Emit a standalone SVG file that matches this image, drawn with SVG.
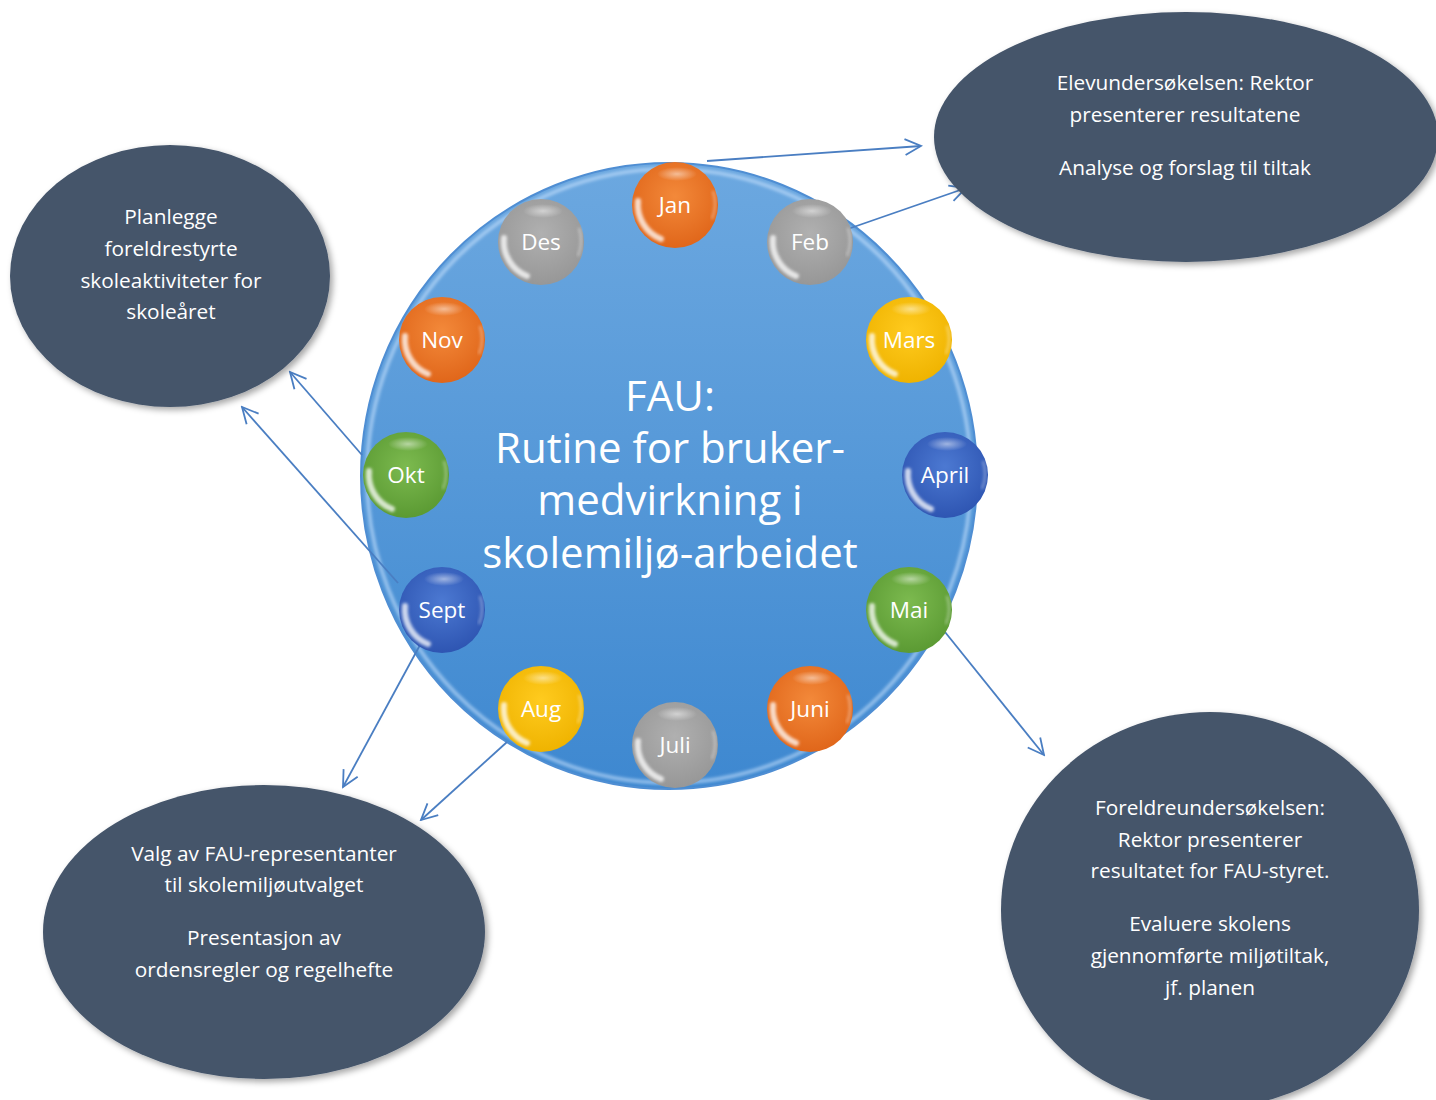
<svg xmlns="http://www.w3.org/2000/svg" width="1436" height="1100" viewBox="0 0 1436 1100">
<defs>
<style>
.note{fill:#44546A;filter:url(#sh);}
.nt{font-family:"Open Sans","Noto Sans",sans-serif;font-size:20.8px;fill:#fff;text-anchor:middle;}
.mt{font-family:"Open Sans","Noto Sans",sans-serif;font-size:22.5px;fill:#fff;text-anchor:middle;}
.title{font-family:"Open Sans","Noto Sans",sans-serif;font-size:42px;fill:#fff;text-anchor:middle;}
.con{stroke:#4A7EC2;stroke-width:1.8;fill:none;marker-end:url(#ah);}
</style>
<filter id="sh" x="-10%" y="-10%" width="125%" height="125%">
<feDropShadow dx="3" dy="3" stdDeviation="3" flood-color="#000" flood-opacity="0.35"/>
</filter>
<filter id="bl" x="-50%" y="-50%" width="200%" height="200%"><feGaussianBlur stdDeviation="1.6"/></filter>
<marker id="ah" viewBox="0 0 20 20" refX="18" refY="10" markerWidth="20" markerHeight="20" markerUnits="userSpaceOnUse" orient="auto">
<path d="M2,2 L18,10 L2,18" fill="none" stroke="#4A7EC2" stroke-width="1.8"/>
</marker>
<linearGradient id="big" x1="0" y1="0" x2="0" y2="1">
<stop offset="0" stop-color="#6CA8E0"/>
<stop offset="1" stop-color="#3E88D0"/>
</linearGradient>
<radialGradient id="gO" cx="0.5" cy="0.4" r="0.6"><stop offset="0" stop-color="#F3893A"/><stop offset="1" stop-color="#E0661A"/></radialGradient>
<radialGradient id="gG" cx="0.5" cy="0.4" r="0.6"><stop offset="0" stop-color="#B0B0B0"/><stop offset="1" stop-color="#979797"/></radialGradient>
<radialGradient id="gY" cx="0.5" cy="0.4" r="0.6"><stop offset="0" stop-color="#FFCB1F"/><stop offset="1" stop-color="#EFB300"/></radialGradient>
<radialGradient id="gB" cx="0.5" cy="0.4" r="0.6"><stop offset="0" stop-color="#4C79D2"/><stop offset="1" stop-color="#2E55B2"/></radialGradient>
<radialGradient id="gN" cx="0.5" cy="0.4" r="0.6"><stop offset="0" stop-color="#7CBA4F"/><stop offset="1" stop-color="#5B9A33"/></radialGradient>
<radialGradient id="hl" cx="0.5" cy="0.5" r="0.5"><stop offset="0" stop-color="#fff" stop-opacity="0.5"/><stop offset="1" stop-color="#fff" stop-opacity="0"/></radialGradient>
<g id="gloss">
<ellipse cx="2" cy="-31" rx="20" ry="7" fill="url(#hl)"/>
<path d="M-37,-4 A37,37 0 0 0 -14,34" fill="none" stroke="#fff" stroke-opacity="0.75" stroke-width="6" stroke-linecap="round" filter="url(#bl)"/>
<path d="M38,-14 A40,40 0 0 1 37,14" fill="none" stroke="#fff" stroke-opacity="0.35" stroke-width="2.5" filter="url(#bl)"/>
</g>
</defs>
<rect width="1436" height="1100" fill="#fff"/>

<g id="wheel">
<ellipse cx="669" cy="476" rx="308" ry="313" fill="url(#big)" stroke="#4F8ED3" stroke-width="2"/>
<ellipse cx="669" cy="476" rx="302" ry="307" fill="none" stroke="#CDE6FF" stroke-opacity="0.55" stroke-width="4" filter="url(#bl)"/>
<text class="title" x="670" y="411">FAU:</text>
<text class="title" x="670" y="463">Rutine for bruker-</text>
<text class="title" x="670" y="515">medvirkning i</text>
<text class="title" x="670" y="568">skolemiljø-arbeidet</text>
</g>

<g id="connectors">
<line class="con" x1="707" y1="161" x2="921" y2="146"/>
<line class="con" x1="845" y1="230" x2="966" y2="188"/>
<line class="con" x1="362" y1="455" x2="290" y2="372"/>
<line class="con" x1="398" y1="583" x2="242" y2="407"/>
<line class="con" x1="420" y1="645" x2="343" y2="787"/>
<line class="con" x1="507" y1="742" x2="421" y2="820"/>
<line class="con" x1="945" y1="632" x2="1044" y2="755"/>
</g>

<g id="m-jan"><circle cx="675" cy="205" r="43" fill="url(#gO)"/><use href="#gloss" x="675" y="205"/><text class="mt" x="675" y="213">Jan</text></g>
<g id="m-feb"><circle cx="810" cy="242" r="43" fill="url(#gG)"/><use href="#gloss" x="810" y="242"/><text class="mt" x="810" y="250">Feb</text></g>
<g id="m-mars"><circle cx="909" cy="340" r="43" fill="url(#gY)"/><use href="#gloss" x="909" y="340"/><text class="mt" x="909" y="348">Mars</text></g>
<g id="m-april"><circle cx="945" cy="475" r="43" fill="url(#gB)"/><use href="#gloss" x="945" y="475"/><text class="mt" x="945" y="483">April</text></g>
<g id="m-mai"><circle cx="909" cy="610" r="43" fill="url(#gN)"/><use href="#gloss" x="909" y="610"/><text class="mt" x="909" y="618">Mai</text></g>
<g id="m-juni"><circle cx="810" cy="709" r="43" fill="url(#gO)"/><use href="#gloss" x="810" y="709"/><text class="mt" x="810" y="717">Juni</text></g>
<g id="m-juli"><circle cx="675" cy="745" r="43" fill="url(#gG)"/><use href="#gloss" x="675" y="745"/><text class="mt" x="675" y="753">Juli</text></g>
<g id="m-aug"><circle cx="541" cy="709" r="43" fill="url(#gY)"/><use href="#gloss" x="541" y="709"/><text class="mt" x="541" y="717">Aug</text></g>
<g id="m-sept"><circle cx="442" cy="610" r="43" fill="url(#gB)"/><use href="#gloss" x="442" y="610"/><text class="mt" x="442" y="618">Sept</text></g>
<g id="m-okt"><circle cx="406" cy="475" r="43" fill="url(#gN)"/><use href="#gloss" x="406" y="475"/><text class="mt" x="406" y="483">Okt</text></g>
<g id="m-nov"><circle cx="442" cy="340" r="43" fill="url(#gO)"/><use href="#gloss" x="442" y="340"/><text class="mt" x="442" y="348">Nov</text></g>
<g id="m-des"><circle cx="541" cy="242" r="43" fill="url(#gG)"/><use href="#gloss" x="541" y="242"/><text class="mt" x="541" y="250">Des</text></g>

<g id="n-topright">
<ellipse class="note" cx="1186" cy="137" rx="252" ry="125"/>
<text class="nt" x="1185" y="90">Elevundersøkelsen: Rektor</text>
<text class="nt" x="1185" y="122">presenterer resultatene</text>
<text class="nt" x="1185" y="175">Analyse og forslag til tiltak</text>
</g>
<g id="n-left">
<ellipse class="note" cx="170" cy="276" rx="160" ry="131"/>
<text class="nt" x="171" y="224">Planlegge</text>
<text class="nt" x="171" y="256">foreldrestyrte</text>
<text class="nt" x="171" y="288">skoleaktiviteter for</text>
<text class="nt" x="171" y="319">skoleåret</text>
</g>
<g id="n-bottomleft">
<ellipse class="note" cx="264" cy="932" rx="221" ry="147"/>
<text class="nt" x="264" y="861">Valg av FAU-representanter</text>
<text class="nt" x="264" y="892">til skolemiljøutvalget</text>
<text class="nt" x="264" y="945">Presentasjon av</text>
<text class="nt" x="264" y="977">ordensregler og regelhefte</text>
</g>
<g id="n-bottomright">
<ellipse class="note" cx="1210" cy="910" rx="209" ry="198"/>
<text class="nt" x="1210" y="815">Foreldreundersøkelsen:</text>
<text class="nt" x="1210" y="847">Rektor presenterer</text>
<text class="nt" x="1210" y="878">resultatet for FAU-styret.</text>
<text class="nt" x="1210" y="931">Evaluere skolens</text>
<text class="nt" x="1210" y="963">gjennomførte miljøtiltak,</text>
<text class="nt" x="1210" y="995">jf. planen</text>
</g>
</svg>
